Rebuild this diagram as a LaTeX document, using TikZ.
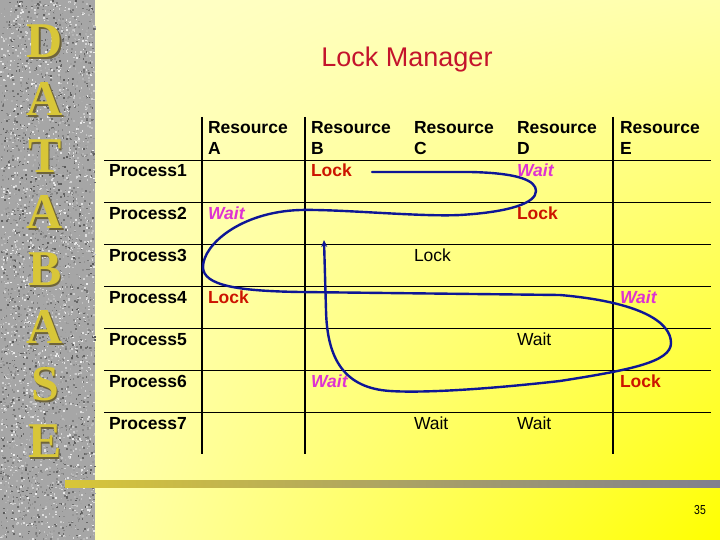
\documentclass[tikz,border=0pt]{standalone}
\usepackage{fontspec}
\setmainfont{Liberation Sans}
\newfontfamily\serifface{Liberation Serif}
\usetikzlibrary{arrows.meta,shadings}
\definecolor{lockred}{RGB}{204,20,0}
\definecolor{waitmag}{RGB}{222,50,210}
\definecolor{titlered}{RGB}{196,20,44}
\definecolor{curveblue}{RGB}{14,22,150}
\definecolor{gold}{RGB}{216,198,56}
\definecolor{goldshade}{RGB}{110,100,60}
\definecolor{barend}{RGB}{128,128,142}
\definecolor{granite}{RGB}{166,166,166}
\definecolor{bgul}{RGB}{255,255,206}
\definecolor{bgur}{RGB}{255,255,170}
\definecolor{bgll}{RGB}{255,255,200}
\definecolor{bglr}{RGB}{255,255,0}
\tikzset{
  txt/.style={inner sep=0pt, outer sep=0pt, anchor=base west, font=\fontsize{17.5}{20}\selectfont},
  hdr/.style={txt, font=\fontsize{17.5}{20}\selectfont\bfseries},
  lockcell/.style={hdr, text=lockred},
  waitcell/.style={txt, font=\fontsize{17.5}{20}\selectfont\bfseries\itshape, text=waitmag},
  plaincell/.style={txt},
  gridline/.style={black, line width=1.2pt},
  cycle/.style={curveblue, line width=2.4pt, line cap=round, line join=round},
  letter/.style={inner sep=0pt, font=\serifface\bfseries\fontsize{50}{50}\selectfont},
}
\newcommand\embossed[1]{\rlap{\hspace{1.5pt}\raisebox{-1.5pt}{\textcolor{goldshade}{#1}}}\textcolor{gold}{#1}}
\begin{document}
\begin{tikzpicture}[x=1pt,y=-1pt]
\useasboundingbox (0,0) rectangle (720,540);
% background
\shade[upper left=bgul, upper right=bgur, lower left=bgll, lower right=bglr] (0,0) rectangle (720,540);
% granite strip
\fill[granite] (0,0) rectangle (95,540);
\pgfmathsetseed{11}
\foreach \i in {1,...,4200}{
  \pgfmathsetmacro\gx{rnd*94}
  \pgfmathsetmacro\gy{rnd*539}
  \pgfmathtruncatemacro\gs{35+rnd*60}
  \fill[white!\gs!black] (\gx,\gy) rectangle ++(1.6,1.6);
}
% DATABASE letters
\foreach \ch/\yy [count=\k] in {D/42,A/100,T/157,A/213,B/270,A/328,S/385,E/442}{
  \node[letter] (lt\k) at (45,\yy) {\embossed{\ch}};
}
% bottom bar
\shade[left color=gold, right color=barend] (65,480) rectangle (720,487);
% page number
\node[inner sep=0pt, font=\fontsize{13}{14}\selectfont, xscale=0.8] (pg) at (700,510) {35};
% title
\node[inner sep=0pt, anchor=base, font=\fontsize{27}{30}\selectfont, text=titlered] (title) at (407,67) {Lock Manager};
% grid
\foreach \yy [count=\k] in {160.5,202.5,244.5,286.5,328.5,370.5,412.5}{
  \draw[gridline] (104,\yy) coordinate (hl\k) -- (711,\yy) coordinate (hr\k);
}
\foreach \xx [count=\k] in {202,305,613}{
  \draw[gridline] (\xx,117) coordinate (vt\k) -- (\xx,454) coordinate (vb\k);
}
% headers
\foreach \cx/\nm [count=\k] in {208/A,311/B,414/C,517/D,620/E}{
  \node[hdr] (rh\k) at (\cx,134) {Resource};
  \node[hdr] (rl\k) at (\cx,155) {\nm};
}
\foreach \k in {1,...,7}{
  \node[hdr] (p\k) at (109,177+42*\k-42) {Process\k};
}
% cells
\node[lockcell] (c1b) at (311,177) {Lock};
\node[waitcell] (c1d) at (517,177) {Wait};
\node[waitcell] (c2a) at (208,219) {Wait};
\node[lockcell] (c2d) at (517,219) {Lock};
\node[plaincell] (c3c) at (414,261) {Lock};
\node[lockcell] (c4a) at (208,303) {Lock};
\node[waitcell] (c4e) at (620,303) {Wait};
\node[plaincell] (c5d) at (517,345) {Wait};
\node[waitcell] (c6b) at (311,387) {Wait};
\node[lockcell] (c6e) at (620,387) {Lock};
\node[plaincell] (c7c) at (414,429) {Wait};
\node[plaincell] (c7d) at (517,429) {Wait};
% wait-for cycle
\coordinate (cs) at (372,172);
\coordinate (ce) at (324,240);
\draw[cycle, -{Stealth[length=7pt,width=6pt]}] (cs) -- (470,172)
  .. controls (520,173) and (536,181) .. (536,191)
  .. controls (536,203) and (510,212) .. (460,215)
  .. controls (420,217) and (340,209) .. (300,210)
  .. controls (240,212) and (203,245) .. (203,267)
  .. controls (203,286) and (240,291) .. (300,292)
  -- (560,295)
  .. controls (640,302) and (671,322) .. (671,343)
  .. controls (671,362) and (630,370) .. (560,381)
  .. controls (480,390) and (420,393) .. (390,391)
  .. controls (345,388) and (327,360) .. (326,310)
  -- (ce);
\end{tikzpicture}
\end{document}
